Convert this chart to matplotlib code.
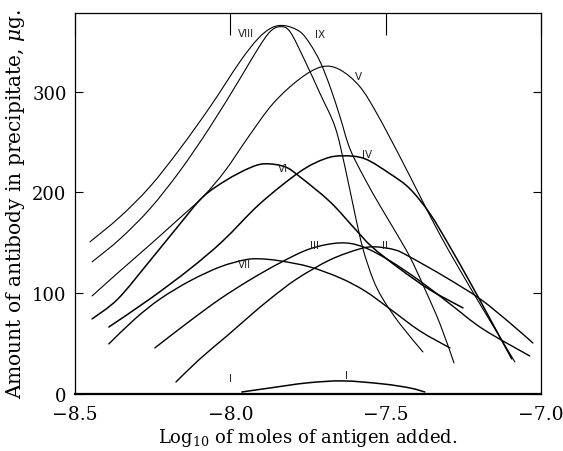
import matplotlib
matplotlib.use("Agg")
import matplotlib.pyplot as plt
from matplotlib.path import Path
from matplotlib.patches import PathPatch

plt.rcParams['font.family'] = ['DejaVu Serif']
plt.rcParams['mathtext.fontset'] = 'dejavuserif'

# Curve data: log10 moles antigen (x), antibody in precipitate in ug (y)
viii_x = [-8.452, -8.355, -8.259, -8.162, -8.065, -7.969, -7.911, -7.866, -7.824, -7.776,
          -7.744, -7.711, -7.679, -7.647, -7.615, -7.567, -7.518, -7.470, -7.422, -7.374,
          -7.325, -7.280]
viii_y = [150.9, 175.8, 205.6, 243.3, 285.0, 329.7, 352.5, 363.5, 365.4, 359.5,
          347.6, 329.7, 304.9, 275.1, 243.3, 213.5, 186.7, 161.9, 136.0, 104.3,
          69.5, 30.8]

ix_x = [-8.445, -8.355, -8.259, -8.162, -8.065, -7.969, -7.911, -7.872, -7.840, -7.808,
        -7.760, -7.711, -7.663, -7.631, -7.599, -7.573, -7.541, -7.509, -7.454, -7.380]
ix_y = [131.1, 153.9, 183.7, 221.4, 265.1, 312.8, 342.6, 359.5, 364.4, 359.5,
        330.7, 297.9, 265.1, 225.4, 178.7, 144.0, 114.2, 94.3, 69.5, 41.7]

v_x = [-8.445, -8.355, -8.259, -8.162, -8.088, -8.017, -7.946, -7.863, -7.776, -7.705,
       -7.647, -7.583, -7.528, -7.454, -7.390, -7.325, -7.261, -7.187, -7.084]
v_y = [97.3, 122.1, 148.0, 174.8, 195.6, 221.4, 253.2, 288.0, 312.8, 324.7,
       321.7, 304.9, 278.1, 235.4, 196.6, 157.9, 123.1, 84.4, 31.8]

vi_x = [-8.445, -8.362, -8.259, -8.162, -8.088, -8.011, -7.937, -7.888, -7.824, -7.776,
        -7.679, -7.599, -7.544, -7.454, -7.357, -7.251]
vi_y = [74.5, 94.3, 132.1, 168.8, 195.6, 212.5, 224.4, 228.4, 225.4, 215.5,
        190.7, 163.9, 146.0, 124.1, 103.3, 85.4]

iv_x = [-8.391, -8.259, -8.130, -8.024, -7.905, -7.776, -7.695, -7.637, -7.567, -7.486,
        -7.422, -7.357, -7.293, -7.229, -7.164, -7.094]
iv_y = [66.5, 94.3, 124.1, 151.9, 188.7, 220.5, 233.4, 236.3, 233.4, 218.5,
        203.6, 178.7, 146.0, 111.2, 74.5, 34.8]

vii_x = [-8.391, -8.307, -8.226, -8.130, -8.033, -7.953, -7.905, -7.840, -7.744, -7.647,
         -7.567, -7.486, -7.390, -7.293]
vii_y = [49.7, 74.5, 94.3, 112.2, 126.1, 133.1, 134.1, 132.1, 126.1, 115.2,
         102.3, 84.4, 62.6, 45.7]

iii_x = [-8.243, -8.130, -8.033, -7.937, -7.840, -7.744, -7.647, -7.573, -7.486, -7.390,
         -7.293, -7.187, -7.036]
iii_y = [45.7, 72.5, 94.3, 113.2, 130.1, 144.0, 149.9, 146.0, 132.1, 112.2,
         89.4, 64.5, 37.7]

ii_x = [-8.175, -8.098, -8.011, -7.937, -7.872, -7.786, -7.679, -7.583, -7.534, -7.470,
        -7.422, -7.309, -7.196, -7.100, -7.026]
ii_y = [11.9, 34.8, 57.6, 77.5, 94.3, 114.2, 133.1, 144.0, 146.0, 143.0,
        136.0, 116.2, 94.3, 70.5, 50.6]

i_x = [-7.963, -7.872, -7.753, -7.637, -7.509, -7.422, -7.374]
i_y = [2, 6, 11, 13, 10, 6, 2]

curve_labels = ["VIII", "IX", "V", "VI", "IV", "VII", "III", "II", "I", "I"]
label_x = [-7.950, -7.711, -7.589, -7.831, -7.560, -7.953, -7.728, -7.502, -8.001, -7.625]
label_y = [358, 357, 316, 224, 238, 129, 148, 148, 16, 19]

xticks = [-8.5, -8.0, -7.5, -7.0]
xtick_labels = ["\u22128.5", "\u22128.0", "\u22127.5", "\u22127.0"]
yticks = [0, 100, 200, 300]


def smooth_path(xs, ys):
    """Smooth drawn line through the read points (Catmull-Rom as Bezier segments)."""
    pts = list(zip(xs, ys))
    verts = [pts[0]]
    codes = [Path.MOVETO]
    n = len(pts)
    for i in range(n - 1):
        p0 = pts[i - 1] if i > 0 else pts[i]
        p1 = pts[i]
        p2 = pts[i + 1]
        p3 = pts[i + 2] if i + 2 < n else pts[i + 1]
        c1 = (p1[0] + (p2[0] - p0[0]) / 6.0, p1[1] + (p2[1] - p0[1]) / 6.0)
        c2 = (p2[0] - (p3[0] - p1[0]) / 6.0, p2[1] - (p3[1] - p1[1]) / 6.0)
        verts += [c1, c2, p2]
        codes += [Path.CURVE4, Path.CURVE4, Path.CURVE4]
    return Path(verts, codes)


fig = plt.figure(figsize=(5.63, 4.52), dpi=100)
ax = fig.add_axes([0.1332, 0.1261, 0.8277, 0.8429])

series = [(viii_x, viii_y, 0.8), (ix_x, ix_y, 0.8), (v_x, v_y, 0.8), (vi_x, vi_y, 1.1),
          (iv_x, iv_y, 1.1), (vii_x, vii_y, 1.0), (iii_x, iii_y, 1.0), (ii_x, ii_y, 1.0),
          (i_x, i_y, 1.1)]
for xs, ys, lw in series:
    ax.add_patch(PathPatch(smooth_path(xs, ys), facecolor='none', edgecolor='black',
                           lw=lw, capstyle='round'))

for t, x, y in zip(curve_labels, label_x, label_y):
    ax.text(x, y, t, fontsize=7.5, family='DejaVu Sans', ha='center', va='center',
            color='#222222')

ax.set_xlim(-8.5, -7.0)
ax.set_ylim(0, 378)
ax.set_xticks(xticks)
ax.set_xticklabels(xtick_labels)
ax.set_yticks(yticks)
ax.tick_params(axis='x', bottom=False, top=True, direction='in', length=16, width=0.8,
               labelsize=13.5, pad=8)
ax.tick_params(axis='y', left=True, right=True, direction='in', length=6, width=0.8,
               labelsize=13, pad=6)
for s in ['left', 'right', 'top']:
    ax.spines[s].set_linewidth(0.9)
ax.spines['bottom'].set_linewidth(1.6)

ax.set_xlabel("Log$_{10}$ of moles of antigen added.", fontsize=13, labelpad=2)
ax.set_ylabel("Amount of antibody in precipitate, $\\mu$g.", fontsize=14.5, labelpad=4)

fig.savefig("out.png", dpi=100)
